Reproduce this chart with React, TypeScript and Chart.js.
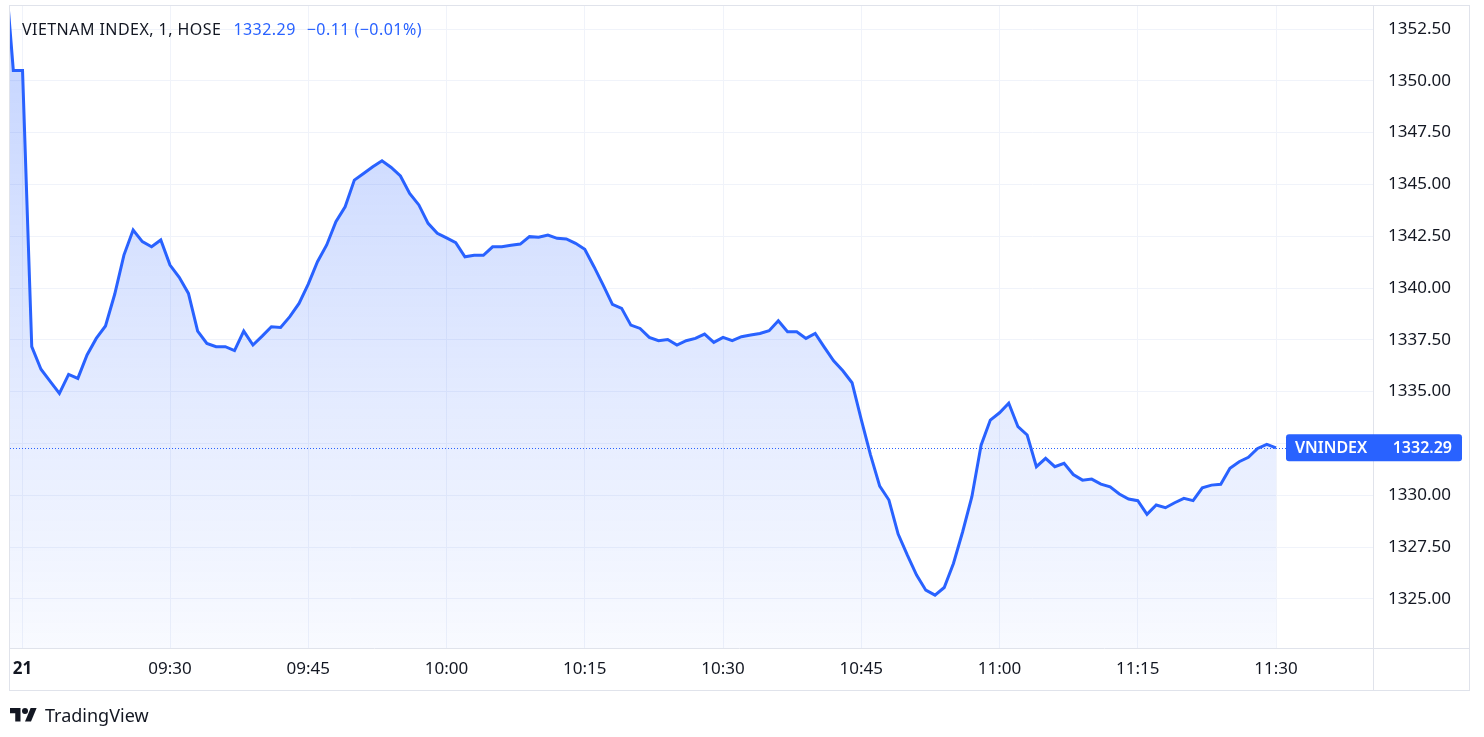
import React, { useEffect, useRef } from "react";
import { Chart, registerables } from "chart.js";

Chart.register(...registerables);

const FONT = '"Noto Sans", sans-serif';

// first bar sits 3 bars before the 09:15 bar (last bars of the previous session)
const FIRST_BAR = -3;
const VALUES = [
  1356.0, 1350.5, 1350.5,
  1337.17, 1336.08, 1335.5, 1334.92, 1335.83, 1335.64, 1336.77, 1337.57, 1338.17, 1339.7,
  1341.59, 1342.8, 1342.24, 1341.99, 1342.32, 1341.11, 1340.52, 1339.74, 1337.92, 1337.33,
  1337.17, 1337.17, 1336.98, 1337.92, 1337.25, 1337.68, 1338.13, 1338.1, 1338.62, 1339.26,
  1340.19, 1341.27, 1342.08, 1343.2, 1343.92, 1345.21, 1345.53, 1345.85, 1346.14, 1345.82,
  1345.41, 1344.57, 1344.01, 1343.12, 1342.64, 1342.42, 1342.19, 1341.51, 1341.58, 1341.58,
  1341.99, 1341.99, 1342.06, 1342.12, 1342.48, 1342.45, 1342.56, 1342.4, 1342.37, 1342.16,
  1341.87, 1341.03, 1340.14, 1339.21, 1339.02, 1338.21, 1338.05, 1337.62, 1337.46, 1337.52,
  1337.25, 1337.46, 1337.57, 1337.78, 1337.38, 1337.62, 1337.46, 1337.65, 1337.73, 1337.81,
  1337.94, 1338.42, 1337.89, 1337.89, 1337.57, 1337.81, 1337.14, 1336.49, 1336.01, 1335.43,
  1333.65, 1331.95, 1330.44, 1329.77, 1328.13, 1327.11, 1326.15, 1325.42, 1325.18, 1325.55,
  1326.71, 1328.24, 1329.93, 1332.42, 1333.63, 1333.98, 1334.44, 1333.31, 1332.91, 1331.38,
  1331.78, 1331.38, 1331.54, 1331.0, 1330.73, 1330.78, 1330.54, 1330.41, 1330.06, 1329.82,
  1329.74, 1329.08, 1329.53, 1329.4, 1329.64, 1329.85, 1329.74, 1330.36, 1330.49, 1330.53,
  1331.3, 1331.62, 1331.83, 1332.26, 1332.46, 1332.29,
];

const Y_TICKS = [1325, 1327.5, 1330, 1332.5, 1335, 1337.5, 1340, 1342.5, 1345, 1347.5, 1350, 1352.5];
const Y_MIN = 1322.63;
const Y_MAX = 1353.61;

const X_TICKS = [-1, 15, 30, 45, 60, 75, 90, 105, 120, 135];
const X_LABELS = ["21", "09:30", "09:45", "10:00", "10:15", "10:30", "10:45", "11:00", "11:15", "11:30"];
const X_MIN = -2.36;
const X_MAX = 145.52;

const SYMBOL = "VNINDEX";
const LAST_PRICE = 1332.29;
const TITLE = "VIETNAM INDEX, 1, HOSE";
const HEADER_PRICE = "1332.29";
const HEADER_CHANGE = "\u22120.11 (\u22120.01%)";

const BLUE = "#2962ff";
const TEXT = "#131722";
const GRID = "#f0f3fa";
const FRAME = "#e0e3eb";

const W = 1484;
const H = 737;

export default function App() {
  const ref = useRef<HTMLCanvasElement | null>(null);

  useEffect(() => {
    document.body.style.margin = "0";
    const canvas = ref.current;
    if (!canvas) return;

    const points = VALUES.map((v, i) => ({ x: FIRST_BAR + i, y: v }));

    const framePlugin = {
      id: "frame",
      beforeDatasetsDraw(chart: any) {
        const { ctx, chartArea, scales } = chart;
        const y = Math.round(scales.y.getPixelForValue(LAST_PRICE)) + 0.5;
        ctx.save();
        ctx.strokeStyle = BLUE;
        ctx.lineWidth = 1;
        ctx.setLineDash([1, 2]);
        ctx.beginPath();
        ctx.moveTo(chartArea.left, y);
        ctx.lineTo(chartArea.right, y);
        ctx.stroke();
        ctx.restore();
      },
      afterDraw(chart: any) {
        const { ctx, chartArea, scales } = chart;
        ctx.save();
        ctx.strokeStyle = FRAME;
        ctx.lineWidth = 1;
        const L = chartArea.left - 0.5;
        const R = 1469.5;
        const T = chartArea.top - 0.5;
        const B = 690.5;
        ctx.strokeRect(L, T, R - L, B - T);
        ctx.beginPath();
        ctx.moveTo(chartArea.right + 0.5, T);
        ctx.lineTo(chartArea.right + 0.5, B);
        ctx.moveTo(L, chartArea.bottom + 0.5);
        ctx.lineTo(R, chartArea.bottom + 0.5);
        ctx.stroke();

        // last price label
        const y = scales.y.getPixelForValue(LAST_PRICE);
        const bx = 1286;
        const bw = 176;
        const bh = 27;
        ctx.fillStyle = BLUE;
        ctx.beginPath();
        (ctx as any).roundRect(bx, y - bh / 2, bw, bh, 3);
        ctx.fill();
        ctx.fillStyle = "#ffffff";
        ctx.font = `600 16px ${FONT}`;
        ctx.textBaseline = "middle";
        ctx.textAlign = "left";
        ctx.fillText(SYMBOL, bx + 9, y + 1);
        ctx.textAlign = "right";
        ctx.fillText(LAST_PRICE.toFixed(2), bx + bw - 10, y + 1);
        ctx.restore();
      },
    };

    const chart = new Chart(canvas, {
      type: "line",
      data: {
        datasets: [
          {
            label: SYMBOL,
            data: points,
            borderColor: BLUE,
            borderWidth: 3,
            pointRadius: 0,
            tension: 0,
            fill: "start",
            backgroundColor: (c: any) => {
              const area = c.chart.chartArea;
              if (!area) return "rgba(41,98,255,0.2)";
              const g = c.chart.ctx.createLinearGradient(0, area.top, 0, area.bottom);
              g.addColorStop(0, "rgba(41,98,255,0.28)");
              g.addColorStop(1, "rgba(41,98,255,0.03)");
              return g;
            },
          },
        ],
      },
      options: {
        animation: false,
        responsive: false,
        events: [],
        layout: { padding: { left: 10, top: 6, right: 15, bottom: 47 } },
        plugins: {
          legend: { display: false },
          tooltip: { enabled: false },
          title: { display: false },
        },
        scales: {
          x: {
            type: "linear",
            position: "bottom",
            min: X_MIN,
            max: X_MAX,
            afterBuildTicks: (s: any) => {
              s.ticks = X_TICKS.map((v) => ({ value: v }));
            },
            afterFit: (s: any) => {
              s.height = 42;
              s.paddingLeft = 0;
              s.paddingRight = 0;
              s.paddingTop = 0;
              s.paddingBottom = 0;
            },
            border: { display: false },
            grid: { color: GRID, lineWidth: 1, drawTicks: false },
            ticks: {
              autoSkip: false,
              maxRotation: 0,
              minRotation: 0,
              padding: 11,
              color: TEXT,
              font: (c: any) => ({
                family: FONT,
                size: 17,
                weight: c.index === 0 ? "bold" : "normal",
              }),
              callback: (_v: any, i: number) => X_LABELS[i],
            },
          },
          y: {
            type: "linear",
            position: "right",
            min: Y_MIN,
            max: Y_MAX,
            afterBuildTicks: (s: any) => {
              s.ticks = Y_TICKS.map((v) => ({ value: v }));
            },
            afterFit: (s: any) => {
              s.width = 96;
              s.paddingLeft = 0;
              s.paddingRight = 0;
              s.paddingTop = 0;
              s.paddingBottom = 0;
            },
            border: { display: false },
            grid: { color: GRID, lineWidth: 1, drawTicks: false },
            ticks: {
              padding: 15,
              color: TEXT,
              font: { family: FONT, size: 17 },
              callback: (v: any) => Number(v).toFixed(2),
            },
          },
        },
      },
      plugins: [framePlugin],
    });

    return () => chart.destroy();
  }, []);

  return (
    <div style={{ position: "absolute", left: 0, top: 0, width: W, height: H, background: "#ffffff", fontFamily: FONT }}>
      <canvas ref={ref} width={W} height={H} style={{ position: "absolute", left: 0, top: 0, width: W, height: H }} />
      <div
        style={{
          position: "absolute",
          left: 22,
          top: 19,
          fontSize: 16,
          letterSpacing: "0.45px",
          lineHeight: "20px",
          color: TEXT,
          whiteSpace: "nowrap",
        }}
      >
        <span>{TITLE}</span>
        <span style={{ color: BLUE, marginLeft: 12 }}>{HEADER_PRICE}</span>
        <span style={{ color: BLUE, marginLeft: 11 }}>{HEADER_CHANGE}</span>
      </div>
      <svg
        width={27}
        height={21}
        viewBox="0 0 36 28"
        style={{ position: "absolute", left: 10, top: 705 }}
      >
        <path d="M14 22H7V11H0V4h14v18z" fill={TEXT} />
        <circle cx={20} cy={8} r={4} fill={TEXT} />
        <path d="M28 22h-8l7.5-18h8L28 22z" fill={TEXT} />
      </svg>
      <div
        style={{
          position: "absolute",
          left: 45,
          top: 703,
          fontSize: 18,
          lineHeight: "24px",
          color: TEXT,
          whiteSpace: "nowrap",
        }}
      >
        TradingView
      </div>
    </div>
  );
}
